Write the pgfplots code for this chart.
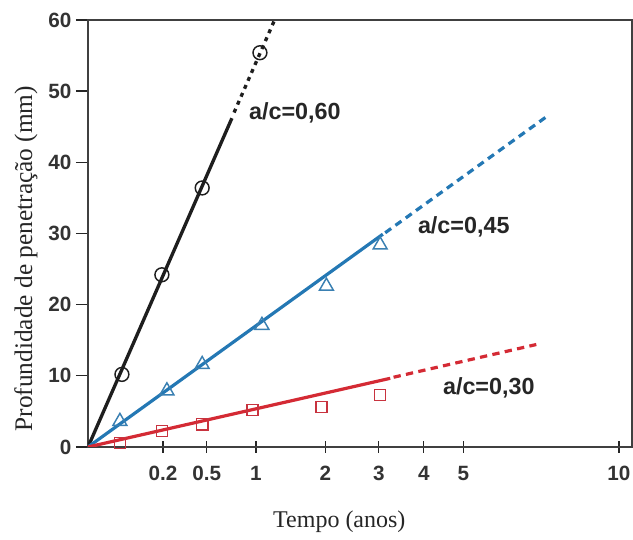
\documentclass[border=0pt]{standalone}
\usepackage{fontspec}
\setmainfont{Liberation Sans}
\newfontfamily\seriffont{Liberation Serif}
\usepackage{pgfplots}
\pgfplotsset{compat=1.18}
\definecolor{linek}{HTML}{1E1E1E}
\definecolor{lineb}{HTML}{2478B4}
\definecolor{liner}{HTML}{D42A34}
\definecolor{markr}{HTML}{C8333F}
\definecolor{markb}{HTML}{3A80B2}

\begin{document}
\begin{tikzpicture}
\begin{axis}[
  scale only axis,
  width=408pt,height=320.25pt,
  xmin=0,xmax=3.24,ymin=0,ymax=60,
  xtick={0.4472,0.7071,1,1.4142,1.7321,2,2.2361,3.1623},
  xticklabels={0.2,0.5,1,2,3,4,5,10},
  ytick={0,10,20,30,40,50,60},
  xtick pos=bottom, ytick pos=left,
  xtick align=center, ytick align=outside,
  major tick length=9pt,
  tick style={line width=1pt,color=black!85},
  axis line style={line width=1pt,color=black!75},
  /pgf/number format/assume math mode=true,
  tick label style={font=\fontsize{15.5}{15.5}\selectfont\bfseries,color=black!80},
  xticklabel style={yshift=-6pt,text height=11pt,text depth=0pt},
  xlabel={Tempo (anos)},
  ylabel={Profundidade de penetração (mm)},
  xlabel style={font=\seriffont\fontsize{18}{18}\selectfont,color=black!85,
    at={(axis description cs:0.462,0)},anchor=center,yshift=-56pt},
  ylabel style={font=\seriffont\fontsize{19}{19}\selectfont,color=black!85,
    at={(axis description cs:0,0.441)},anchor=center,yshift=46.5pt},
  clip=true]
% fitted lines (x axis in sqrt(t))
\addplot[linek,line width=2.5pt] coordinates {(0,0)(0.857,46.2)};
\addplot[linek,line width=2.5pt,dash pattern=on 3pt off 3.5pt] coordinates {(0.87,47.0)(1.115,60.2)};
\addplot[lineb,line width=2.4pt] coordinates {(0,0)(1.756,29.9)};
\addplot[lineb,line width=2.4pt,dash pattern=on 5.5pt off 4pt] coordinates {(1.77,30.1)(2.73,46.4)};
\addplot[liner,line width=2.4pt] coordinates {(0,0)(1.80,9.65)};
\addplot[liner,line width=2.4pt,dash pattern=on 5.5pt off 4pt] coordinates {(1.82,9.8)(2.67,14.4)};
% measured points
\addplot[only marks,mark=o,mark size=5.2pt,mark options={linek,line width=1.1pt}]
  coordinates {(0.202,10.2)(0.44,24.2)(0.68,36.4)(1.024,55.4)};
\addplot[only marks,mark=triangle,mark size=6pt,mark options={markb,line width=1.1pt}]
  coordinates {(0.19,3.6)(0.47,7.9)(0.68,11.6)(1.036,17.1)(1.42,22.6)(1.74,28.4)};
\addplot[only marks,mark=square,mark size=4.2pt,mark options={markr,line width=1.1pt}]
  coordinates {(0.19,0.56)(0.44,2.25)(0.68,3.2)(0.98,5.2)(1.39,5.6)(1.74,7.3)};
\node[anchor=west,font=\fontsize{17.5}{17.5}\selectfont\bfseries,color=black!85,inner sep=0pt] at (axis cs:0.958,46.9) {a/c=0,60};
\node[anchor=west,font=\fontsize{17.5}{17.5}\selectfont\bfseries,color=black!85,inner sep=0pt] at (axis cs:1.964,30.9) {a/c=0,45};
\node[anchor=west,font=\fontsize{17.5}{17.5}\selectfont\bfseries,color=black!85,inner sep=0pt] at (axis cs:2.113,8.3) {a/c=0,30};
\end{axis}
\pgfresetboundingbox
\path (current axis.south west) ++(-66pt,-69.75pt) rectangle ([shift={(0.75pt,15pt)}]current axis.north east);
\end{tikzpicture}
\end{document}
